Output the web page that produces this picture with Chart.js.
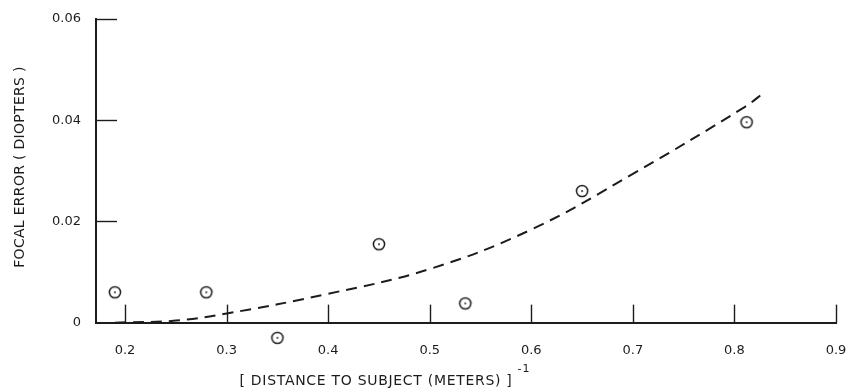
<!DOCTYPE html>
<html lang="en">
<head>
    <meta charset="UTF-8">
    <title>Focal Error vs Distance</title>
    <script src="https://cdn.jsdelivr.net/npm/chart.js"></script>
    <style>
        html, body { margin: 0; padding: 0; background: #fff; }
        #wrap { width: 850px; height: 389px; }
    </style>
</head>
<body>
<div id="wrap"><canvas id="focalChart"></canvas></div>
<script>
    // measured points (inverse distance, focal error)
    const pointX = [0.19, 0.28, 0.35, 0.45, 0.535, 0.65, 0.812];
    const pointY = [0.006, 0.006, -0.003, 0.0155, 0.0038, 0.026, 0.0396];

    // dashed fitted curve
    const curveX = [0.19, 0.25, 0.30, 0.40, 0.50, 0.60, 0.70, 0.81, 0.83];
    const curveY = [0, 0.0004, 0.0018, 0.0057, 0.0106, 0.0184, 0.0294, 0.0426, 0.0456];

    const xTicks = [0.2, 0.3, 0.4, 0.5, 0.6, 0.7, 0.8, 0.9];
    const yTicks = [0, 0.02, 0.04, 0.06];

    const ink = "#1c1c1c";
    const fontFam = "'DejaVu Sans', sans-serif";

    // circle with a dot in the middle
    function makeMarker() {
        let c = document.createElement("canvas");
        c.width = 16; c.height = 16;
        let g = c.getContext("2d");
        g.strokeStyle = ink;
        g.lineWidth = 1.5;
        g.beginPath();
        g.arc(8, 8, 5.6, 0, Math.PI * 2);
        g.stroke();
        g.fillStyle = ink;
        g.beginPath();
        g.arc(8, 8, 0.9, 0, Math.PI * 2);
        g.fill();
        return c;
    }

    const axisDecor = {
        id: "axisDecor",
        afterDraw(chart) {
            let ctx = chart.ctx, ca = chart.chartArea;
            let xs = chart.scales.x, ys = chart.scales.y;
            let y0 = ys.getPixelForValue(0);
            ctx.save();
            ctx.strokeStyle = ink;

            // y axis line, only from 0 up
            ctx.lineWidth = 2;
            ctx.beginPath();
            ctx.moveTo(ca.left, y0 + 1);
            ctx.lineTo(ca.left, ys.getPixelForValue(yTicks[yTicks.length - 1]) - 1);
            ctx.stroke();

            // ticks pointing into the plot
            ctx.lineWidth = 1.4;
            xTicks.forEach(v => {
                let px = Math.round(xs.getPixelForValue(v)) + 0.5;
                ctx.beginPath();
                ctx.moveTo(px, y0);
                ctx.lineTo(px, y0 - 18);
                ctx.stroke();
            });
            yTicks.slice(1).forEach(v => {
                let py = Math.round(ys.getPixelForValue(v)) + 0.5;
                ctx.beginPath();
                ctx.moveTo(ca.left, py);
                ctx.lineTo(ca.left + 21, py);
                ctx.stroke();
            });

            ctx.fillStyle = ink;
            ctx.textBaseline = "middle";

            // y axis title
            ctx.save();
            ctx.translate(20, 167);
            ctx.rotate(-Math.PI / 2);
            ctx.font = "14px " + fontFam;
            ctx.letterSpacing = "0.3px";
            ctx.textAlign = "center";
            ctx.fillText("FOCAL ERROR ( DIOPTERS )", 0, 0);
            ctx.restore();

            // x axis title with superscript
            ctx.font = "14px " + fontFam;
            ctx.letterSpacing = "0.7px";
            ctx.textAlign = "left";
            let title = "[ DISTANCE TO SUBJECT (METERS) ]";
            let w = ctx.measureText(title).width;
            let tx = 376 - w / 2;
            ctx.fillText(title, tx, 381);
            ctx.font = "11px " + fontFam;
            ctx.letterSpacing = "1px";
            ctx.fillText("-1", tx + w + 5, 369);
            ctx.restore();
        }
    };

    const ctx = document.getElementById("focalChart").getContext("2d");
    new Chart(ctx, {
        type: "scatter",
        data: {
            datasets: [
                {
                    type: "line",
                    label: "fit",
                    data: curveX.map((x, i) => ({ x: x, y: curveY[i] })),
                    borderColor: ink,
                    borderWidth: 2,
                    borderDash: [11, 7],
                    pointRadius: 0,
                    fill: false,
                    tension: 0.4,
                    clip: false
                },
                {
                    label: "measured",
                    data: pointX.map((x, i) => ({ x: x, y: pointY[i] })),
                    pointStyle: makeMarker(),
                    pointRadius: 6,
                    clip: false
                }
            ]
        },
        options: {
            responsive: true,
            maintainAspectRatio: false,
            animation: false,
            layout: { padding: { top: 19, right: 14, left: 0, bottom: 36 } },
            plugins: {
                legend: { display: false },
                tooltip: { enabled: false }
            },
            scales: {
                x: {
                    type: "linear",
                    position: { y: 0 },
                    min: 0.1714,
                    max: 0.9,
                    afterBuildTicks: s => { s.ticks = xTicks.map(v => ({ value: v })); },
                    afterFit: s => { s.paddingLeft = 0; s.paddingRight = 0; },
                    grid: { display: false },
                    border: { display: true, color: ink, width: 2 },
                    ticks: {
                        color: ink,
                        padding: 12,
                        maxRotation: 0,
                        font: { family: fontFam, size: 13 },
                        callback: v => v.toFixed(1)
                    }
                },
                y: {
                    min: -0.006,
                    max: 0.06,
                    afterBuildTicks: s => { s.ticks = yTicks.map(v => ({ value: v })); },
                    afterFit: s => { s.width = 96; s.paddingTop = 0; s.paddingBottom = 0; },
                    grid: { display: false },
                    border: { display: false },
                    ticks: {
                        color: ink,
                        padding: 7,
                        font: { family: fontFam, size: 13 },
                        callback: v => v === 0 ? "0" : v.toFixed(2)
                    }
                }
            }
        },
        plugins: [axisDecor]
    });
</script>
</body>
</html>
